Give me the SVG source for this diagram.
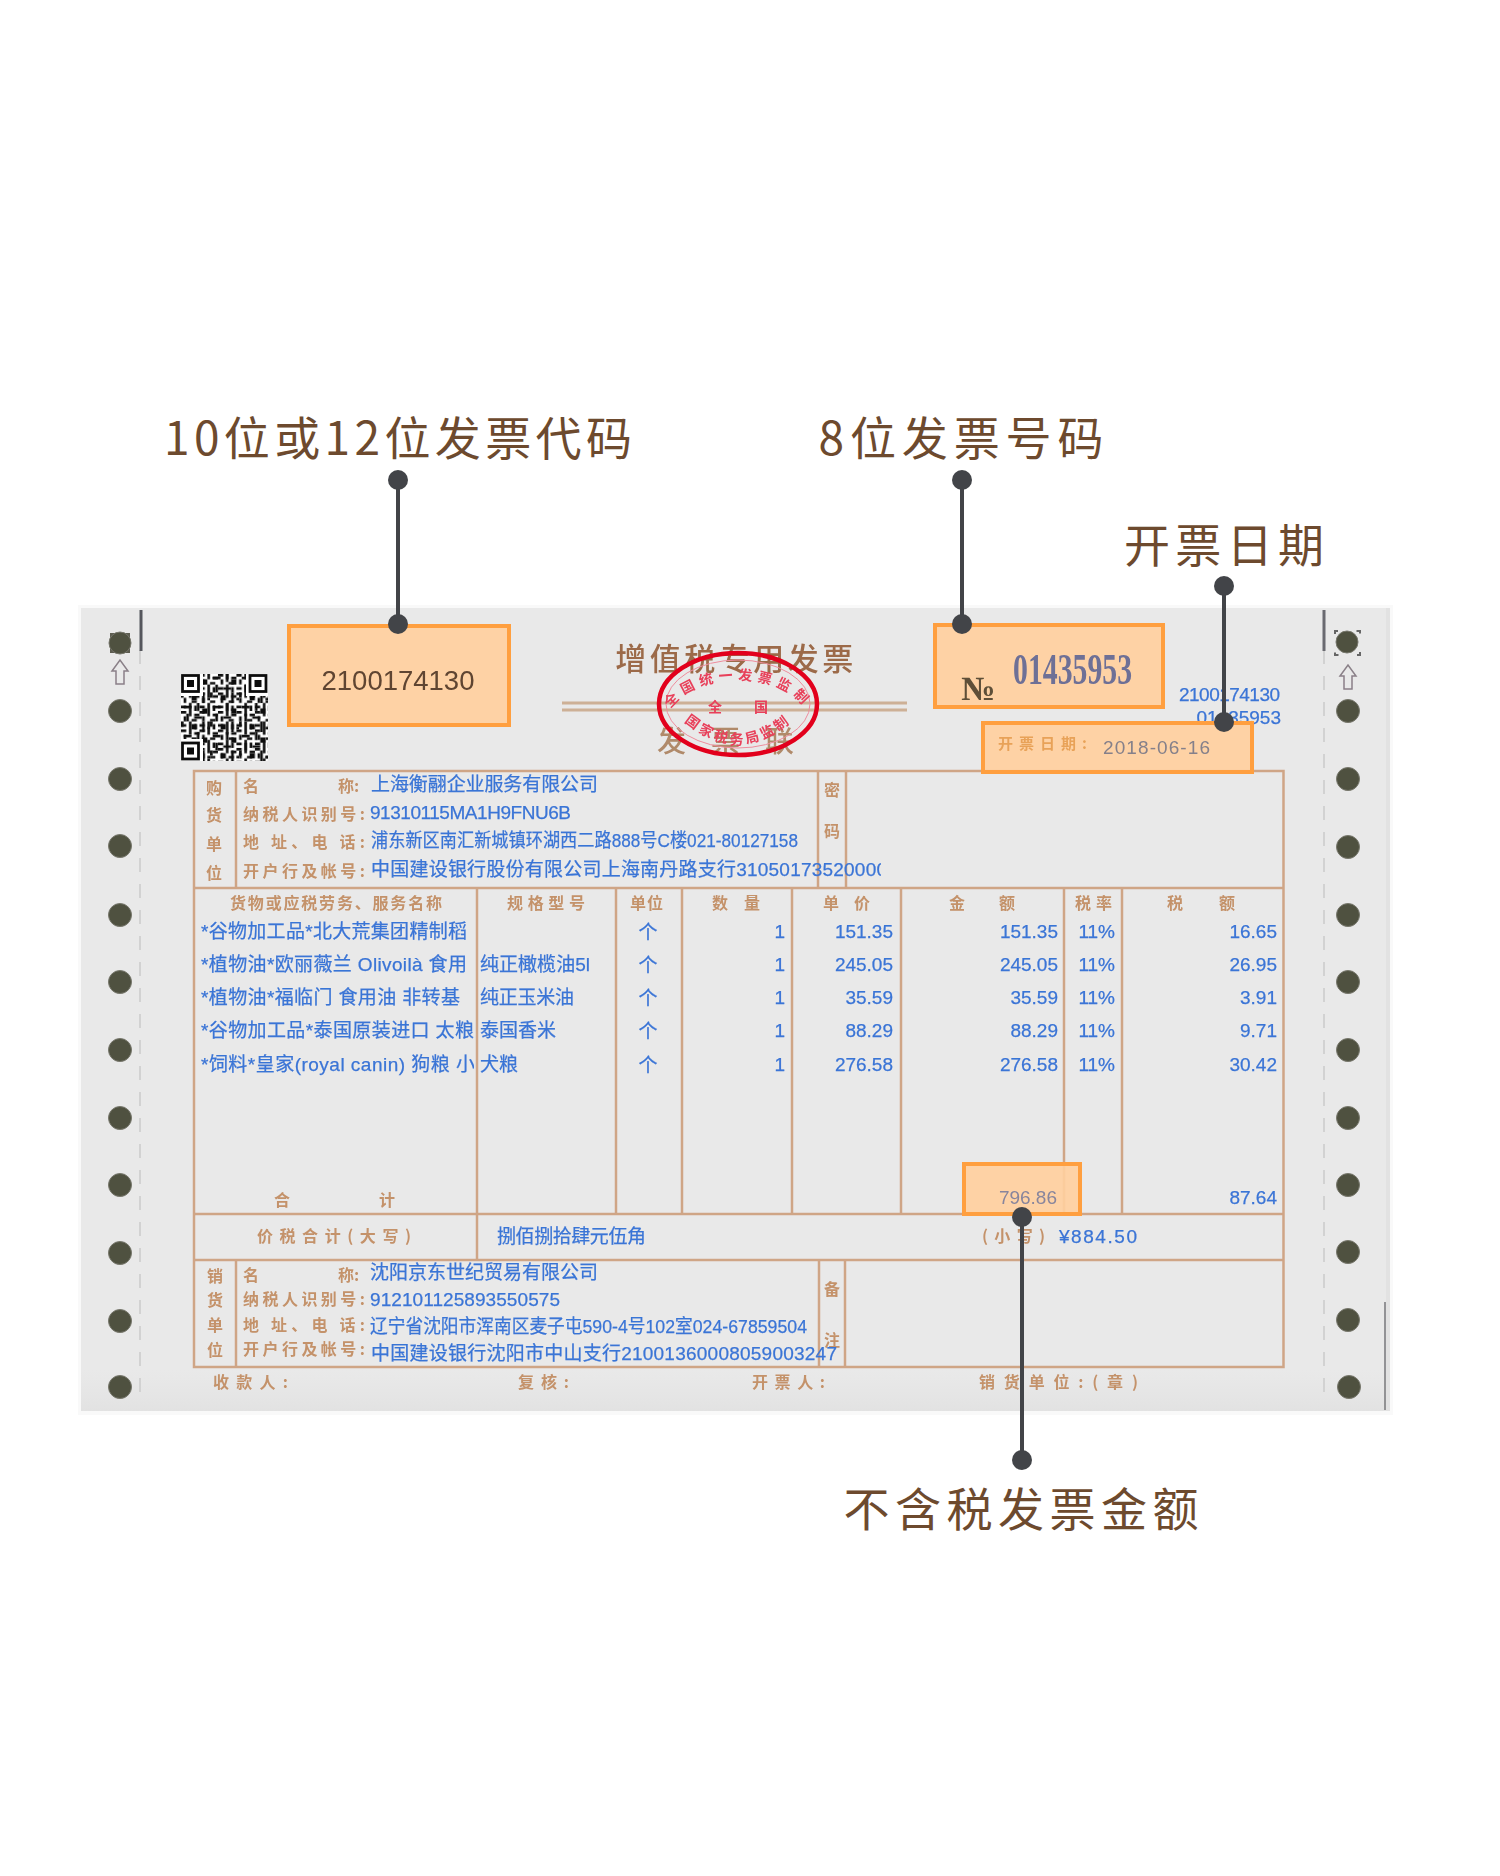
<svg xmlns="http://www.w3.org/2000/svg" xmlns:xlink="http://www.w3.org/1999/xlink" width="1500" height="1876" viewBox="0 0 1500 1876">
<style>
text{font-family:"Liberation Sans","Noto Sans CJK SC",sans-serif}
.call{font-family:"Noto Sans CJK SC","Noto Sans",sans-serif;font-size:46px;fill:#6d4a2e;text-anchor:middle}
.b{fill:#3a74d6;font-size:19px;stroke:#3a74d6;stroke-width:.25}
.r{fill:#3a74d6;font-size:19px;text-anchor:end;stroke:#3a74d6;stroke-width:.25}
.f{fill:#c4926a;font-size:16px;font-weight:700;font-family:"Noto Sans CJK SC",sans-serif}
.c{text-anchor:middle}
.g{fill:none;stroke:#cfa586;stroke-width:2.5}
.hole{fill:#4f5140;stroke:#77776c;stroke-width:1}
.box{fill:#ffcf9e;fill-opacity:.92;stroke:#ff9f3f;stroke-width:4}
.ln{stroke:#424448;stroke-width:4;fill:none}
.dot{fill:#424448}
.st{fill:#e8405a;font-size:14px;font-weight:700;font-family:"Noto Sans CJK SC",sans-serif}
.arr{fill:none;stroke:#8a8088;stroke-width:1.5}
</style>
<defs>
<linearGradient id="fade" x1="0" y1="0" x2="0" y2="1"><stop offset="0" stop-color="#e4e4e4" stop-opacity="0"/><stop offset="1" stop-color="#e2e2e2"/></linearGradient>
<filter id="soft" x="-2%" y="-2%" width="104%" height="104%"><feGaussianBlur stdDeviation="0.45"/></filter>
<pattern id="qa" width="7" height="7" patternUnits="userSpaceOnUse" patternTransform="translate(181 674) scale(2.64)"><path d="M0 0h2v1h-2zM3 0h1v2h-1zM5 1h2v1h-2zM1 2h1v2h-1zM4 3h2v1h-2zM0 5h2v1h-2zM3 4h1v3h-1zM5 5h1v2h-1z" fill="#111"/></pattern>
<pattern id="qb" width="11" height="11" patternUnits="userSpaceOnUse" patternTransform="translate(181 674) scale(2.64)"><path d="M1 1h3v1h-3zM6 0h1v3h-1zM8 2h2v2h-2zM2 4h1v3h-1zM5 5h3v1h-3zM0 7h1v2h-1zM4 8h2v2h-2zM8 7h1v4h-1zM10 9h1v1h-1z" fill="#111"/></pattern>
<path id="stTop" d="M668 716 A71 43 0 0 1 808 716"/>
<path id="stBot" d="M678 716 Q738 772 798 716"/>
<path id="up" d="M-4 24V11H-8L0 0L8 11H4V24Z"/>
<clipPath id="clipTax"><rect x="360" y="855" width="521" height="30"/></clipPath>
<clipPath id="clipGoods"><rect x="195" y="915" width="279" height="170"/></clipPath>
</defs>

<g id="invoice">
<rect x="78" y="605" width="1315" height="810" fill="#f9f9f9"/>
<rect x="81" y="608" width="1309" height="803" fill="#e9e9e9"/>
<rect x="81" y="1370" width="1309" height="41" fill="url(#fade)"/>
<rect x="1386" y="608" width="4" height="803" fill="#e2e2e2"/>
<g filter="url(#soft)">
<g id="feed-holes">
<path d="M140 650V1400M1324 650V1400" stroke="#d2d2d2" stroke-width="2" stroke-dasharray="14 12" fill="none"/>
<path d="M141 610V651" stroke="#55565c" stroke-width="3"/>
<path d="M1324 610V651" stroke="#6a6b70" stroke-width="3"/>
<path d="M1385 1302V1410" stroke="#77777a" stroke-width="1.5"/>
<rect x="110" y="633" width="20" height="20" fill="#5b5b50"/>
<rect x="1335" y="631" width="25" height="24" fill="none" stroke="#666" stroke-width="2" stroke-dasharray="6 18.500" stroke-dashoffset="3"/>
<circle class="hole" cx="120" cy="643" r="11"/><circle class="hole" cx="120" cy="711" r="11.5"/><circle class="hole" cx="120" cy="779" r="11.5"/><circle class="hole" cx="120" cy="846" r="11.5"/><circle class="hole" cx="120" cy="915" r="11.5"/><circle class="hole" cx="120" cy="982" r="11.5"/><circle class="hole" cx="120" cy="1050" r="11.5"/><circle class="hole" cx="120" cy="1118" r="11.5"/><circle class="hole" cx="120" cy="1185" r="11.5"/><circle class="hole" cx="120" cy="1253" r="11.5"/><circle class="hole" cx="120" cy="1321" r="11.5"/><circle class="hole" cx="120" cy="1387" r="11.5"/>
<circle class="hole" cx="1347" cy="642" r="11"/><circle class="hole" cx="1348" cy="711" r="11.5"/><circle class="hole" cx="1348" cy="779" r="11.5"/><circle class="hole" cx="1348" cy="847" r="11.5"/><circle class="hole" cx="1348" cy="915" r="11.5"/><circle class="hole" cx="1348" cy="982" r="11.5"/><circle class="hole" cx="1348" cy="1050" r="11.5"/><circle class="hole" cx="1348" cy="1118" r="11.5"/><circle class="hole" cx="1348" cy="1185" r="11.5"/><circle class="hole" cx="1348" cy="1252" r="11.5"/><circle class="hole" cx="1348" cy="1320" r="11.5"/><circle class="hole" cx="1349" cy="1387" r="11.5"/>
<use xlink:href="#up" href="#up" class="arr" transform="translate(120 660)"/>
<use xlink:href="#up" href="#up" class="arr" transform="translate(1348 665)"/>
</g>
<g id="qr">
<rect x="181" y="674" width="87" height="87" fill="#fff"/>
<rect x="181" y="674" width="87" height="87" fill="url(#qa)"/>
<rect x="181" y="674" width="87" height="87" fill="url(#qb)"/>
<g fill="#fff"><rect x="181" y="674" width="22" height="22"/><rect x="246" y="674" width="22" height="22"/><rect x="181" y="739" width="22" height="22"/></g>
<g fill="none" stroke="#111" stroke-width="2.8"><rect x="182.500" y="675.500" width="16" height="16"/><rect x="250" y="675.500" width="16" height="16"/><rect x="182.500" y="743" width="16" height="16"/></g>
<g fill="#111"><rect x="187" y="680" width="7" height="7"/><rect x="254.500" y="680" width="7" height="7"/><rect x="187" y="747.500" width="7" height="7"/></g>
</g>
<g id="title">
<text x="736" y="670" class="c" style="font-family:'Noto Sans CJK SC',sans-serif;font-size:31px;font-weight:500;fill:#9c6a48;letter-spacing:3.500px">增值税专用发票</text>
<path d="M562 703H907M562 710H907" stroke="#cdb096" stroke-width="3"/>
<text x="738" y="752" class="c" style="font-family:'Noto Sans CJK SC',sans-serif;font-size:29px;font-weight:500;fill:#b08a6a;letter-spacing:25px">发票联</text>
</g>
<g id="table">
<rect class="g" x="194" y="771" width="1089.500" height="596"/>
<path class="g" d="M194 888H1283M194 1214H1283M194 1260H1283M236 771V888M818 771V888M846 771V888M477 888V1260M616 888V1214M682 888V1214M792 888V1214M901 888V1214M1064 888V1214M1122 888V1214M236 1260V1367M819 1260V1367M845 1260V1367"/>
</g>
<g id="form-labels">
<g class="f c" text-anchor="middle">
<text x="214" y="794">购</text><text x="214" y="821">货</text><text x="214" y="850">单</text><text x="214" y="879">位</text>
<text x="215" y="1282">销</text><text x="215" y="1306">货</text><text x="215" y="1331">单</text><text x="215" y="1356">位</text>
<text x="832" y="796">密</text><text x="832" y="837">码</text>
<text x="832" y="1295">备</text><text x="832" y="1346">注</text>
<text x="282" y="1206">合</text><text x="387" y="1206">计</text>
</g>
<text class="f" x="243" y="792" font-size="17">名</text><text class="f" x="338" y="792">称:</text>
<text class="f" x="243" y="820" textLength="122">纳税人识别号:</text>
<text class="f" x="243" y="848" textLength="122">地 址、电 话:</text>
<text class="f" x="243" y="877" textLength="122">开户行及帐号:</text>
<text class="f" x="243" y="1281">名</text><text class="f" x="338" y="1281">称:</text>
<text class="f" x="243" y="1305" textLength="122">纳税人识别号:</text>
<text class="f" x="243" y="1331" textLength="122">地 址、电 话:</text>
<text class="f" x="243" y="1355" textLength="122">开户行及帐号:</text>
<text class="f" x="230" y="909" textLength="212">货物或应税劳务、服务名称</text>
<text class="f" x="507" y="909" textLength="78">规格型号</text>
<text class="f" x="630" y="909" textLength="33">单位</text>
<text class="f" x="712" y="909" textLength="48">数 量</text>
<text class="f" x="823" y="909" textLength="47">单 价</text>
<text class="f" x="949" y="909" textLength="66">金  额</text>
<text class="f" x="1075" y="909" textLength="37">税率</text>
<text class="f" x="1167" y="909" textLength="68">税  额</text>
<text class="f" x="257" y="1242" textLength="154">价税合计(大写)</text>
<text class="f" x="982" y="1242" textLength="63">(小写)</text>
<text class="f" x="213" y="1388" textLength="75">收款人:</text>
<text class="f" x="518" y="1388" textLength="51">复核:</text>
<text class="f" x="752" y="1388" textLength="73">开票人:</text>
<text class="f" x="979" y="1388" textLength="159">销货单位:(章)</text>
</g>
<g id="form-values">
<text class="b" x="371" y="791" textLength="227">上海衡翮企业服务有限公司</text>
<text class="b" x="370" y="819" textLength="201">91310115MA1H9FNU6B</text>
<text class="b" x="371" y="847" textLength="427" lengthAdjust="spacingAndGlyphs">浦东新区南汇新城镇环湖西二路888号C楼021-80127158</text>
<g clip-path="url(#clipTax)"><text class="b" x="371" y="876" textLength="516">中国建设银行股份有限公司上海南丹路支行31050173520000</text></g>
<g clip-path="url(#clipGoods)">
<text class="b" x="201" y="938" textLength="266">*谷物加工品*北大荒集团精制稻</text>
<text class="b" x="201" y="971" textLength="266">*植物油*欧丽薇兰 Olivoilà 食用</text>
<text class="b" x="201" y="1004" textLength="259">*植物油*福临门 食用油 非转基</text>
<text class="b" x="201" y="1037" textLength="273">*谷物加工品*泰国原装进口 太粮</text>
<text class="b" x="201" y="1071" textLength="274">*饲料*皇家(royal canin) 狗粮 小</text>
</g>
<text class="b" x="480" y="971" textLength="110">纯正橄榄油5l</text>
<text class="b" x="480" y="1004" textLength="94">纯正玉米油</text>
<text class="b" x="480" y="1037" textLength="76">泰国香米</text>
<text class="b" x="480" y="1071" textLength="38">犬粮</text>
<g class="b c" font-size="21" text-anchor="middle"><text x="648" y="939">个</text><text x="648" y="972">个</text><text x="648" y="1005">个</text><text x="648" y="1038">个</text><text x="648" y="1072">个</text></g>
<text class="r" x="785" y="938">1</text><text class="r" x="785" y="971">1</text><text class="r" x="785" y="1004">1</text><text class="r" x="785" y="1037">1</text><text class="r" x="785" y="1071">1</text>
<text class="r" x="893" y="938">151.35</text><text class="r" x="893" y="971">245.05</text><text class="r" x="893" y="1004">35.59</text><text class="r" x="893" y="1037">88.29</text><text class="r" x="893" y="1071">276.58</text>
<text class="r" x="1058" y="938">151.35</text><text class="r" x="1058" y="971">245.05</text><text class="r" x="1058" y="1004">35.59</text><text class="r" x="1058" y="1037">88.29</text><text class="r" x="1058" y="1071">276.58</text>
<text class="r" x="1115" y="938">11%</text><text class="r" x="1115" y="971">11%</text><text class="r" x="1115" y="1004">11%</text><text class="r" x="1115" y="1037">11%</text><text class="r" x="1115" y="1071">11%</text>
<text class="r" x="1277" y="938">16.65</text><text class="r" x="1277" y="971">26.95</text><text class="r" x="1277" y="1004">3.91</text><text class="r" x="1277" y="1037">9.71</text><text class="r" x="1277" y="1071">30.42</text>
<text class="r" x="1277" y="1204">87.64</text>
<text class="b" x="497" y="1243" textLength="149">捌佰捌拾肆元伍角</text>
<text class="b" x="1059" y="1243" textLength="78">¥884.50</text>
<text class="b" x="370" y="1279" textLength="228">沈阳京东世纪贸易有限公司</text>
<text class="b" x="370" y="1306" textLength="190">912101125893550575</text>
<text class="b" x="370" y="1333" textLength="437" lengthAdjust="spacingAndGlyphs">辽宁省沈阳市浑南区麦子屯590-4号102室024-67859504</text>
<text class="b" x="371" y="1360" textLength="466">中国建设银行沈阳市中山支行21001360008059003247</text>
<text class="b" x="1179" y="701" textLength="101">2100174130</text>
<text class="r" x="1281" y="724">01435953</text>
</g>
<g id="stamp">
<ellipse cx="738" cy="704" rx="79" ry="51" fill="none" stroke="#e2001a" stroke-width="4.500"/>
<ellipse cx="738" cy="704" rx="72" ry="44" fill="none" stroke="#ee8c9c" stroke-width="1"/>
<text class="st"><textPath xlink:href="#stTop" href="#stTop" startOffset="50%" text-anchor="middle" letter-spacing="5">全国统一发票监制</textPath></text>
<text class="st c" x="715" y="712" text-anchor="middle">全</text><text class="st c" x="761" y="712" text-anchor="middle">国</text>
<text class="st" font-size="13"><textPath xlink:href="#stBot" href="#stBot" startOffset="50%" text-anchor="middle" letter-spacing="3">国家税务局监制</textPath></text>
</g>
</g>
</g>

<g id="highlight-code"><rect class="box" x="289" y="626" width="220" height="99"/><text x="398" y="690" text-anchor="middle" font-size="27.500" fill="#5f4430" filter="url(#soft)">2100174130</text></g>
<g id="highlight-number"><rect class="box" x="935" y="625" width="228" height="82"/>
<g filter="url(#soft)"><text x="961" y="700" style="font-family:'Liberation Serif',serif;font-size:34px;font-weight:700;fill:#5e5038">№</text>
<text x="1013" y="684" textLength="119" lengthAdjust="spacingAndGlyphs" style="font-family:'Liberation Serif',serif;font-size:44px;font-weight:700;fill:#6e7096">01435953</text></g></g>
<g id="highlight-date"><rect class="box" x="983" y="723" width="269" height="49"/>
<g filter="url(#soft)"><text x="998" y="749" textLength="89" style="font-family:'Noto Sans CJK SC',sans-serif;font-size:15px;font-weight:700;fill:#e8a258">开票日期:</text>
<text x="1103" y="754" textLength="107" font-size="19" fill="#85808a">2018-06-16</text></g></g>
<g id="highlight-amount"><rect class="box" x="964" y="1164" width="116" height="50"/><text x="1057" y="1204" text-anchor="end" font-size="19" fill="#88859c" filter="url(#soft)">796.86</text></g>

<g id="connectors">
<path class="ln" d="M398 480V624M962 480V624M1224 586V722M1022 1217V1460"/>
<circle class="dot" cx="398" cy="480" r="10"/><circle class="dot" cx="398" cy="624" r="10"/>
<circle class="dot" cx="962" cy="480" r="10"/><circle class="dot" cx="962" cy="624" r="10"/>
<circle class="dot" cx="1224" cy="586" r="10"/><circle class="dot" cx="1224" cy="722" r="10"/>
<circle class="dot" cx="1022" cy="1217" r="10"/><circle class="dot" cx="1022" cy="1460" r="10"/>
</g>

<g id="label-code"><text class="call" x="398" y="455" textLength="468">10位或12位发票代码</text></g>
<g id="label-number"><text class="call" x="961" y="455" textLength="285">8位发票号码</text></g>
<g id="label-date"><text class="call" x="1224" y="562" textLength="200">开票日期</text></g>
<g id="label-amount"><text class="call" x="1021" y="1526" textLength="355">不含税发票金额</text></g>
</svg>
